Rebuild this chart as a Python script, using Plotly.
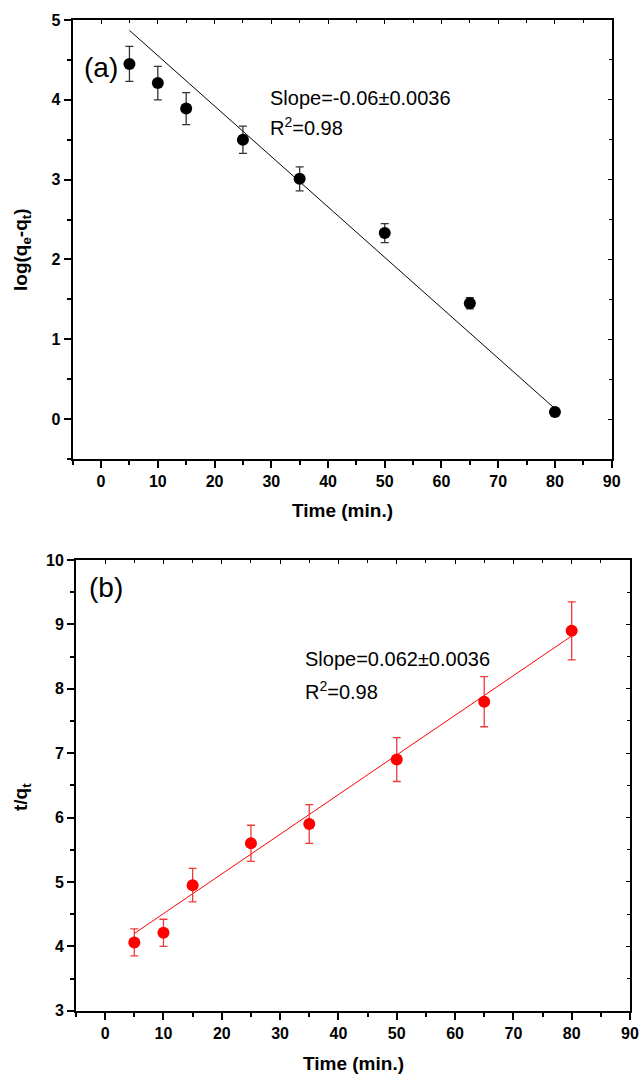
import plotly.graph_objects as go

# ---- data ----
time_min = [5, 10, 15, 25, 35, 50, 65, 80]
log_qe_qt = [4.45, 4.21, 3.89, 3.50, 3.01, 2.33, 1.45, 0.09]
log_err = [0.22, 0.21, 0.20, 0.17, 0.15, 0.12, 0.07, 0.02]
t_qt = [4.06, 4.21, 4.95, 5.60, 5.90, 6.90, 7.80, 8.90]
t_qt_err = [0.21, 0.21, 0.26, 0.28, 0.30, 0.34, 0.39, 0.45]
fit_a_x = [5, 80]
fit_a_y = [4.87, 0.13]
fit_b_x = [5, 80]
fit_b_y = [4.20, 8.82]
x_ticks = [0, 10, 20, 30, 40, 50, 60, 70, 80, 90]
ya_ticks = [0, 1, 2, 3, 4, 5]
yb_ticks = [3, 4, 5, 6, 7, 8, 9, 10]

W, H = 640, 1074
FONT = "Liberation Sans, Arial, sans-serif"

fig = go.Figure()

# panel (a)
fig.add_trace(go.Scatter(x=fit_a_x, y=fit_a_y, mode="lines",
                         line=dict(color="black", width=1), xaxis="x", yaxis="y",
                         showlegend=False, hoverinfo="skip"))
fig.add_trace(go.Scatter(x=time_min, y=log_qe_qt, mode="markers",
                         marker=dict(color="black", size=12),
                         error_y=dict(type="data", array=log_err, color="#333333",
                                      thickness=1.3, width=4),
                         xaxis="x", yaxis="y", showlegend=False))
# panel (b)
fig.add_trace(go.Scatter(x=fit_b_x, y=fit_b_y, mode="lines",
                         line=dict(color="#ff0000", width=1), xaxis="x2", yaxis="y2",
                         showlegend=False, hoverinfo="skip"))
fig.add_trace(go.Scatter(x=time_min, y=t_qt, mode="markers",
                         marker=dict(color="#ff0000", size=12),
                         error_y=dict(type="data", array=t_qt_err, color="#f03a3a",
                                      thickness=1.3, width=4),
                         xaxis="x2", yaxis="y2", showlegend=False))
# empty traces so the mirrored inside-tick axes are drawn
fig.add_trace(go.Scatter(x=[None], y=[None], xaxis="x3", yaxis="y3",
                         showlegend=False, hoverinfo="skip"))
fig.add_trace(go.Scatter(x=[None], y=[None], xaxis="x4", yaxis="y4",
                         showlegend=False, hoverinfo="skip"))

dom_ax = [72.7 / W, 611.7 / W]
dom_ay = [1 - 459 / H, 1 - 20 / H]
dom_bx = [76 / W, 630 / W]
dom_by = [1 - 1010.7 / H, 1 - 560 / H]

tickfont = dict(family=FONT, size=16, color="black", weight="bold")


def main_x(domain, anchor):
    return dict(domain=domain, anchor=anchor, range=[-5, 90], tickvals=x_ticks,
                ticks="outside", ticklen=7, tickwidth=1.5, tickcolor="black",
                minor=dict(dtick=5, tick0=0, ticks="outside", ticklen=4,
                           tickwidth=1.5, tickcolor="black"),
                showline=True, linewidth=2, linecolor="black", mirror=True,
                showgrid=False, zeroline=False, tickfont=tickfont, automargin=False)


def main_y(domain, anchor, rng, tv):
    return dict(domain=domain, anchor=anchor, range=rng, tickvals=tv,
                ticks="outside", ticklen=7, tickwidth=1.5, tickcolor="black",
                minor=dict(dtick=0.5, tick0=0, ticks="outside", ticklen=4,
                           tickwidth=1.5, tickcolor="black"),
                showline=True, linewidth=2, linecolor="black", mirror=True,
                showgrid=False, zeroline=False, tickfont=tickfont, automargin=False)


def top_x(over, anchor):
    return dict(overlaying=over, anchor=anchor, side="top", range=[-5, 90],
                tickvals=x_ticks, ticks="inside", ticklen=4, tickwidth=1,
                tickcolor="black",
                minor=dict(dtick=5, tick0=0, ticks="inside", ticklen=3,
                           tickwidth=1, tickcolor="black"),
                showticklabels=False, showline=False, showgrid=False,
                zeroline=False, automargin=False)


def right_y(over, anchor, rng, tv):
    return dict(overlaying=over, anchor=anchor, side="right", range=rng,
                tickvals=tv, ticks="inside", ticklen=4, tickwidth=1,
                tickcolor="black",
                minor=dict(dtick=0.5, tick0=0, ticks="inside", ticklen=3,
                           tickwidth=1, tickcolor="black"),
                showticklabels=False, showline=False, showgrid=False,
                zeroline=False, automargin=False)


fig.update_layout(
    width=W, height=H,
    margin=dict(l=0, r=0, t=0, b=0, pad=0, autoexpand=False),
    paper_bgcolor="white", plot_bgcolor="white",
    font=dict(family=FONT, size=16, color="black"),
    xaxis=main_x(dom_ax, "y"),
    yaxis=main_y(dom_ay, "x", [-0.5, 5], ya_ticks),
    xaxis2=main_x(dom_bx, "y2"),
    yaxis2=main_y(dom_by, "x2", [3, 10], yb_ticks),
    xaxis3=top_x("x", "y3"),
    yaxis3=right_y("y", "x3", [-0.5, 5], ya_ticks),
    xaxis4=top_x("x2", "y4"),
    yaxis4=right_y("y2", "x4", [3, 10], yb_ticks),
)

ann = []
label_font = dict(size=28, family=FONT, color="black")
fit_font = dict(size=20, family=FONT, color="black")
ann.append(dict(text="(a)", x=0, y=4.40, xref="x", yref="y", showarrow=False,
                font=label_font, xanchor="center", yanchor="middle"))
ann.append(dict(text="Slope=-0.06±0.0036", x=29.5, y=4.02, xref="x", yref="y",
                showarrow=False, font=fit_font, xanchor="left", yanchor="middle"))
ann.append(dict(text="R<sup>2</sup>=0.98", x=29.5, y=3.67, xref="x", yref="y",
                showarrow=False, font=fit_font, xanchor="left", yanchor="middle"))
ann.append(dict(text="(b)", x=0.15, y=9.57, xref="x2", yref="y2", showarrow=False,
                font=label_font, xanchor="center", yanchor="middle"))
ann.append(dict(text="Slope=0.062±0.0036", x=33.9, y=8.46, xref="x2", yref="y2",
                showarrow=False, font=fit_font, xanchor="left", yanchor="middle"))
ann.append(dict(text="R<sup>2</sup>=0.98", x=33.9, y=7.98, xref="x2", yref="y2",
                showarrow=False, font=fit_font, xanchor="left", yanchor="middle"))
title_font = dict(size=19, family=FONT, color="black", weight="bold")
ann.append(dict(text="Time (min.)", x=(dom_ax[0] + dom_ax[1]) / 2, y=1 - 510.5 / H,
                xref="paper", yref="paper", showarrow=False, font=title_font,
                xanchor="center", yanchor="middle"))
ann.append(dict(text="log(q<sub>e</sub>-q<sub>t</sub>)", x=22 / W,
                y=1 - 250 / H, xref="paper", yref="paper",
                showarrow=False, font=title_font, textangle=-90,
                xanchor="center", yanchor="middle"))
ann.append(dict(text="Time (min.)", x=(dom_bx[0] + dom_bx[1]) / 2, y=1 - 1063 / H,
                xref="paper", yref="paper", showarrow=False, font=title_font,
                xanchor="center", yanchor="middle"))
ann.append(dict(text="t/q<sub>t</sub>", x=22 / W,
                y=1 - 797 / H, xref="paper", yref="paper",
                showarrow=False, font=title_font, textangle=-90,
                xanchor="center", yanchor="middle"))
fig.update_layout(annotations=ann)

fig.write_html("out.html")
